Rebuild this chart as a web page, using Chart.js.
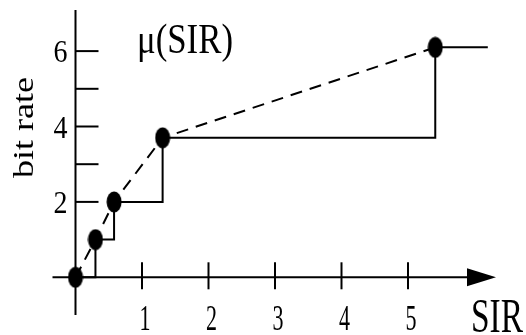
<!DOCTYPE html>
<html lang="en">
<head>
  <meta charset="UTF-8">
  <title>mu(SIR) bit rate</title>
  <script src="https://cdn.jsdelivr.net/npm/chart.js"></script>
  <style>
    body { margin: 0; background: #fff; }
    #rateChart { display: block; }
  </style>
</head>
<body>
  <canvas id="rateChart" width="526" height="335"></canvas>

  <script>
    // operating points of mu(SIR)
    const sirPoints = [0, 0.3, 0.58, 1.31, 5.41];
    const ratePoints = [0, 1, 2, 3.7, 6.1];
    // staircase of achievable rate (last step runs on past the final point)
    const stepSir = [0, 0.3, 0.58, 1.31, 5.41, 6.2];
    const stepRate = [0, 1, 2, 3.7, 6.1, 6.1];
    // axis ticks
    const xTicks = [1, 2, 3, 4, 5];
    const xTickLabels = ["1", "2", "3", "4", "5"];
    const yTicks = [2, 3, 4, 5, 6];
    const yTickLabels = [2, 4, 6];
    const xTitle = "SIR";
    const yTitle = "bit rate";
    const curveTitle = "\u03bc(SIR)";

    const FONT = "'Liberation Serif', 'Times New Roman', serif";

    const toXY = (xs, ys) => xs.map((x, i) => ({ x: x, y: ys[i] }));

    // filled ellipse used as the point marker
    const dot = document.createElement("canvas");
    dot.width = 16;
    dot.height = 22;
    const dctx = dot.getContext("2d");
    dctx.fillStyle = "#000";
    dctx.beginPath();
    dctx.ellipse(8, 11, 7.5, 10.5, 0, 0, Math.PI * 2);
    dctx.fill();

    // draw text squeezed into a given width
    function fitText(ctx, text, x, y, size, width, rot) {
      ctx.save();
      ctx.font = size + "px " + FONT;
      const w = ctx.measureText(text).width;
      ctx.translate(x, y);
      if (rot) ctx.rotate(rot);
      ctx.scale(width / w, 1);
      ctx.textAlign = "left";
      ctx.textBaseline = "alphabetic";
      ctx.fillText(text, 0, 0);
      ctx.restore();
    }

    const axesPlugin = {
      id: "axes",
      beforeDatasetsDraw(chart) {
        const ctx = chart.ctx;
        const xs = chart.scales.x;
        const ys = chart.scales.y;
        const ox = xs.getPixelForValue(0);
        const oy = ys.getPixelForValue(0);

        ctx.save();
        ctx.strokeStyle = "#000";
        ctx.fillStyle = "#000";
        ctx.lineWidth = 2;

        // x axis with arrow
        ctx.beginPath();
        ctx.moveTo(ox - 23, oy);
        ctx.lineTo(470, oy);
        ctx.stroke();
        ctx.beginPath();
        ctx.moveTo(467, oy - 9);
        ctx.lineTo(496, oy);
        ctx.lineTo(467, oy + 9);
        ctx.closePath();
        ctx.fill();

        // y axis
        ctx.beginPath();
        ctx.moveTo(ox, 10);
        ctx.lineTo(ox, 315);
        ctx.stroke();

        // x ticks
        xTicks.forEach(v => {
          const px = xs.getPixelForValue(v);
          ctx.beginPath();
          ctx.moveTo(px, oy - 15);
          ctx.lineTo(px, oy + 12);
          ctx.stroke();
        });
        // y ticks
        yTicks.forEach(v => {
          const py = ys.getPixelForValue(v);
          ctx.beginPath();
          ctx.moveTo(ox, py);
          ctx.lineTo(ox + 23, py);
          ctx.stroke();
        });

        // tick labels
        xTicks.forEach((v, i) => {
          const px = xs.getPixelForValue(v);
          fitText(ctx, xTickLabels[i], px - 2.5, 330, 35, 11);
        });
        yTickLabels.forEach(v => {
          const py = ys.getPixelForValue(v);
          fitText(ctx, String(v), 53.5, py + 11, 31, 14);
        });

        // titles
        fitText(ctx, xTitle, 471, 331.5, 48, 52);
        fitText(ctx, curveTitle, 137, 53, 42, 96);
        fitText(ctx, yTitle, 33, 178, 29, 101, -Math.PI / 2);

        ctx.restore();
      }
    };

    new Chart(document.getElementById("rateChart"), {
      type: "scatter",
      data: {
        datasets: [
          {
            label: "points",
            data: toXY(sirPoints, ratePoints),
            showLine: false,
            pointStyle: dot,
            pointRadius: 8,
            pointHoverRadius: 8,
            clip: false
          },
          {
            label: "mu",
            data: toXY(sirPoints, ratePoints),
            showLine: true,
            borderColor: "#000",
            borderWidth: 2,
            borderDash: [12, 8],
            pointRadius: 0,
            clip: false
          },
          {
            label: "steps",
            data: toXY(stepSir, stepRate),
            showLine: true,
            stepped: true,
            borderColor: "#000",
            borderWidth: 2,
            pointRadius: 0,
            clip: false
          }
        ]
      },
      options: {
        responsive: false,
        animation: false,
        devicePixelRatio: 1,
        layout: { padding: 0, autoPadding: false },
        plugins: {
          legend: { display: false },
          tooltip: { enabled: false }
        },
        scales: {
          x: {
            type: "linear",
            display: false,
            min: -75.5 / 66.5,
            max: (526 - 75.5) / 66.5
          },
          y: {
            type: "linear",
            display: false,
            min: (277.3 - 335) / 37.7,
            max: 277.3 / 37.7
          }
        }
      },
      plugins: [axesPlugin]
    });
  </script>
</body>
</html>
